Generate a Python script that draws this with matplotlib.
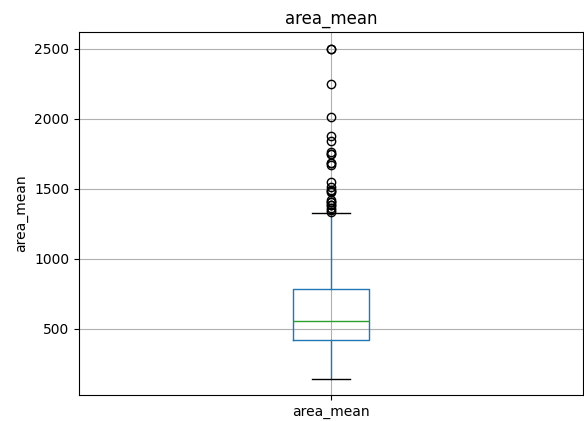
import matplotlib
matplotlib.use("Agg")
from matplotlib import pyplot as plt

column = "area_mean"

# box summary
whisker_low = 143.5
q1 = 420.3
median = 551.1
q3 = 782.7
whisker_high = 1326.0

# outliers above the upper whisker
fliers = [1335, 1347, 1364, 1384, 1386, 1404, 1407, 1419, 1479, 1482,
          1491, 1509, 1546, 1670, 1682, 1686, 1747, 1750, 1761, 1841,
          1878, 2010, 2250, 2499, 2501]

stats = [{
	"label": column,
	"whislo": whisker_low,
	"q1": q1,
	"med": median,
	"q3": q3,
	"whishi": whisker_high,
	"fliers": fliers,
}]

fig = plt.figure(figsize=(5.84, 4.21), dpi=100)
ax = fig.add_axes([79 / 584, 1 - 395 / 421, 504 / 584, 363 / 421])

ax.bxp(
	stats,
	boxprops=dict(color="#1f77b4"),
	whiskerprops=dict(color="#1f77b4"),
	capprops=dict(color="black"),
	medianprops=dict(color="#2ca02c"),
	flierprops=dict(marker="o", markeredgecolor="black", markerfacecolor="none"),
)

ax.set_title(column)
ax.set_ylabel(column)
ax.grid(True)

fig.savefig("out.png", dpi=100)
